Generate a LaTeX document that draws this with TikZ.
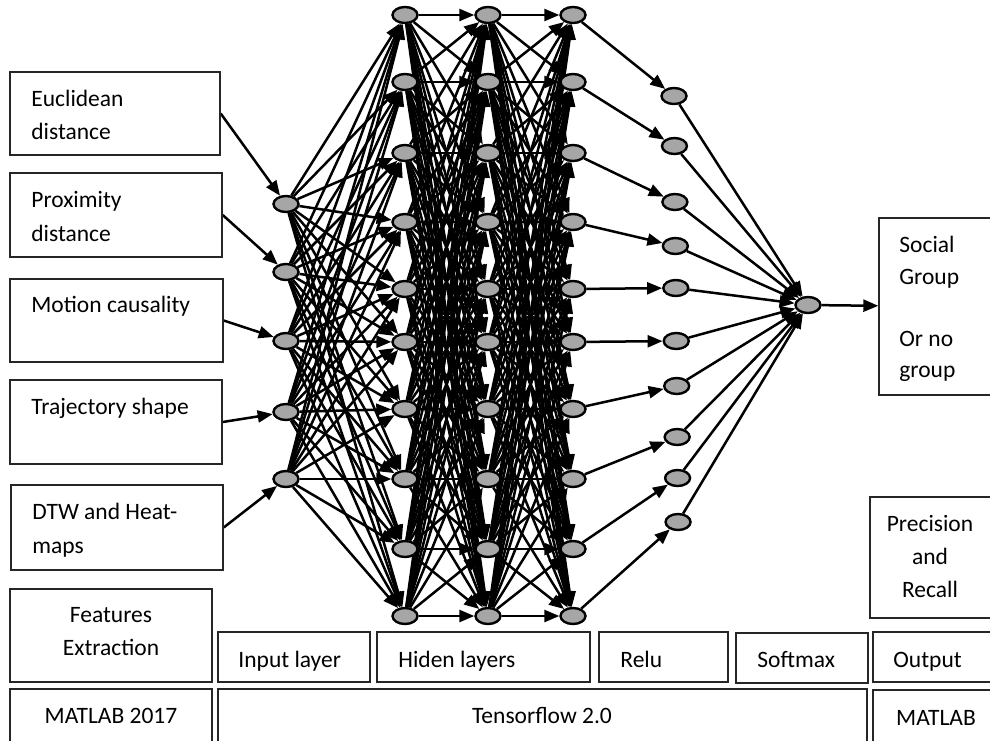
\documentclass[tikz,border=0pt]{standalone}
\usepackage{fontspec}
\setmainfont{Carlito}
\usetikzlibrary{shapes.geometric,arrows.meta}
\pgfdeclarelayer{edges}
\pgfsetlayers{edges,main}
\definecolor{neurongray}{HTML}{A6A6A6}

% rectangle node given by its corners: name, x1, y1, x2, y2
\newcommand\mkbox[5]{\node[panel,minimum width={(#4-#2)*0.5pt},minimum height={(#5-#3)*0.5pt}] (#1) at ({(#2+#4)/2},{(#3+#5)/2}) {};}
% one line of text: name, x, baseline y, text
\newcommand\txtL[4]{\node[lbl,anchor=base west] (#1) at (#2,#3) {#4};}
\newcommand\txtC[4]{\node[lbl,anchor=base] (#1) at (#2,#3) {#4};}

\begin{document}
\begin{tikzpicture}[x=0.5pt,y=-0.5pt,
  neuron/.style={ellipse,draw=black,fill=neurongray,line width=1.2pt,
    minimum width=12.5pt,minimum height=8pt,inner sep=0pt},
  link/.style={line width=1.25pt,-{Triangle[length=7.5pt,width=6pt]}},
  panel/.style={draw=black!85,line width=0.7pt,inner sep=0pt},
  lbl/.style={inner sep=0pt,font=\fontsize{11.75}{14}\selectfont}]

\useasboundingbox (0,0) rectangle (990,740);

% feature boxes
\mkbox{eu}{10}{72}{220}{155}
\mkbox{pr}{10}{173}{222}{257}
\mkbox{mo}{10}{279}{223}{362}
\mkbox{tr}{10}{380}{222}{464}
\mkbox{dt}{11}{485}{223}{570}
\txtL{eua}{31}{106}{Euclidean}
\txtL{eub}{31}{139}{distance}
\txtL{pra}{31}{207}{Proximity}
\txtL{prb}{31}{241}{distance}
\txtL{moa}{31}{312}{Motion causality}
\txtL{tra}{31}{414}{Trajectory shape}
\txtL{dta}{32}{519}{DTW and Heat-}
\txtL{dtb}{32}{553}{maps}

% result boxes (running off the right edge)
\mkbox{soc}{879}{218}{998}{395}
\txtL{soca}{899}{252}{Social}
\txtL{socb}{899}{284}{Group}
\txtL{socc}{899}{346}{Or no}
\txtL{socd}{899}{377}{group}
\mkbox{prc}{870}{497}{992}{618}
\txtC{prca}{930}{531}{Precision}
\txtC{prcb}{930}{564}{and}
\txtC{prcc}{930}{597}{Recall}

% stage row
\mkbox{fe}{10}{589}{212}{682}
\txtC{fea}{111}{622}{Features}
\txtC{feb}{111}{655}{Extraction}
\mkbox{il}{218}{632}{370}{682}
\txtL{ila}{238}{667}{Input layer}
\mkbox{hl}{377}{632}{590}{682}
\txtL{hla}{398}{667}{Hiden layers}
\mkbox{rl}{599}{632}{728}{682}
\txtL{rla}{620}{667}{Relu}
\mkbox{sm}{736}{633}{868}{683}
\txtL{sma}{757}{667}{Softmax}
\mkbox{op}{873}{632}{998}{682}
\txtL{opa}{893}{667}{Output}

% tool row
\mkbox{ml}{10}{689}{212}{745}
\txtC{mla}{111}{723}{MATLAB 2017}
\mkbox{tf}{218}{689}{867}{745}
\txtC{tfa}{542}{723}{Tensorflow 2.0}
\mkbox{mr}{873}{690}{998}{745}
\txtC{mra}{936}{725}{MATLAB}

% neurons
\foreach \y [count=\k] in {204,272,341,412,479}
  \node[neuron] (in\k) at (286,\y) {};
\foreach \y [count=\k] in {15,82,153,222,289,342,409,479,549,616} {
  \node[neuron] (ha\k) at (405,\y) {};
  \node[neuron] (hb\k) at (488,\y) {};
  \node[neuron] (hc\k) at (573,\y) {};
}
\foreach \y [count=\k] in {96,146,202,246,288,341,386,437,478,522}
  \node[neuron] (re\k) at ({674+(\k-1)*0.45},\y) {};
\node[neuron] (out) at (808,305) {};

% connections
\begin{pgfonlayer}{edges}
\draw[link] (eu.east) -- (in1);
\draw[link] (pr.east) -- (in2);
\draw[link] (mo.east) -- (in3);
\draw[link] (tr.east) -- (in4);
\draw[link] (dt.east) -- (in5);
\foreach \i in {1,...,5}
  \foreach \j in {1,...,10}
    \draw[link] (in\i) -- (ha\j);
\foreach \i in {1,...,10}
  \foreach \j in {1,...,10} {
    \draw[link] (ha\i) -- (hb\j);
    \draw[link] (hb\i) -- (hc\j);
  }
\foreach \i in {1,...,10} {
  \draw[link] (hc\i) -- (re\i);
  \draw[link] (re\i) -- (out);
}
\draw[link] (out) -- (soc);
\end{pgfonlayer}
\end{tikzpicture}
\end{document}
